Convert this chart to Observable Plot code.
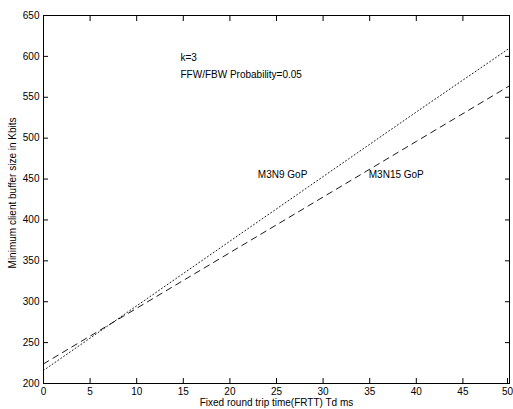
<!DOCTYPE html>
<html>
<head>
<meta charset="utf-8">
<script src="https://cdn.jsdelivr.net/npm/d3@7"></script>
<script src="https://cdn.jsdelivr.net/npm/@observablehq/plot@0.6"></script>
<style>
  body { margin: 0; background: #fff; }
  #chart svg { display: block; }
</style>
</head>
<body>
<div id="chart"></div>
<script>
const frtt = [0, 10, 20, 30, 40, 50];
const m3n9 = [216, 295, 374, 453, 532, 610];
const m3n15 = [224, 292, 360, 428, 496, 564];
const xTicks = [0, 5, 10, 15, 20, 25, 30, 35, 40, 45, 50];
const yTicks = [200, 250, 300, 350, 400, 450, 500, 550, 600, 650];

const dotted = frtt.map((x, i) => ({x, y: m3n9[i]}));
const dashed = frtt.map((x, i) => ({x, y: m3n15[i]}));

const font = "Liberation Sans, Arial, sans-serif";
const lastX = xTicks[xTicks.length - 1];

const plot = Plot.plot({
  width: 513,
  height: 409,
  marginLeft: 43,
  marginRight: 4,
  marginTop: 15,
  marginBottom: 26,
  style: {fontFamily: font, fontSize: "10px", color: "#000", background: "#fff"},
  x: {domain: [0, 50]},
  y: {domain: [200, 650]},
  marks: [
    Plot.frame({stroke: "#000", strokeWidth: 1}),
    Plot.axisX({ticks: xTicks.slice(0, -1), tickSize: -5, tickPadding: 9, label: null, fontSize: 10}),
    Plot.axisX({ticks: [lastX], tickSize: -5, tickPadding: 9, dx: -2, label: null, fontSize: 10}),
    Plot.axisX({ticks: xTicks, anchor: "top", tickSize: -5, tickFormat: () => "", label: null}),
    Plot.axisY({ticks: yTicks, tickSize: -5, tickPadding: 9, label: null, fontSize: 10}),
    Plot.axisY({ticks: yTicks, anchor: "right", tickSize: -5, tickFormat: () => "", label: null}),
    Plot.line(dotted, {x: "x", y: "y", stroke: "#000", strokeWidth: 0.9, strokeDasharray: "1,2.5"}),
    Plot.line(dashed, {x: "x", y: "y", stroke: "#000", strokeWidth: 0.9, strokeDasharray: "6,5"}),
    Plot.text(["k=3"], {x: 14.7, y: 598, text: d => d, textAnchor: "start", fontSize: 10}),
    Plot.text(["FFW/FBW Probability=0.05"], {x: 14.7, y: 577, text: d => d, textAnchor: "start", fontSize: 10}),
    Plot.text(["M3N9 GoP"], {x: 23.0, y: 455, text: d => d, textAnchor: "start", fontSize: 10}),
    Plot.text(["M3N15 GoP"], {x: 34.9, y: 455, text: d => d, textAnchor: "start", fontSize: 10}),
    Plot.text(["Fixed round trip time(FRTT) Td ms"], {x: 25, y: 200, text: d => d, dy: 19, fontSize: 10}),
    Plot.text(["Minimum client buffer size in Kbits"], {x: 0, y: 433, text: d => d, dx: -31, rotate: -90, fontSize: 10})
  ]
});
document.getElementById("chart").append(plot);
</script>
</body>
</html>
